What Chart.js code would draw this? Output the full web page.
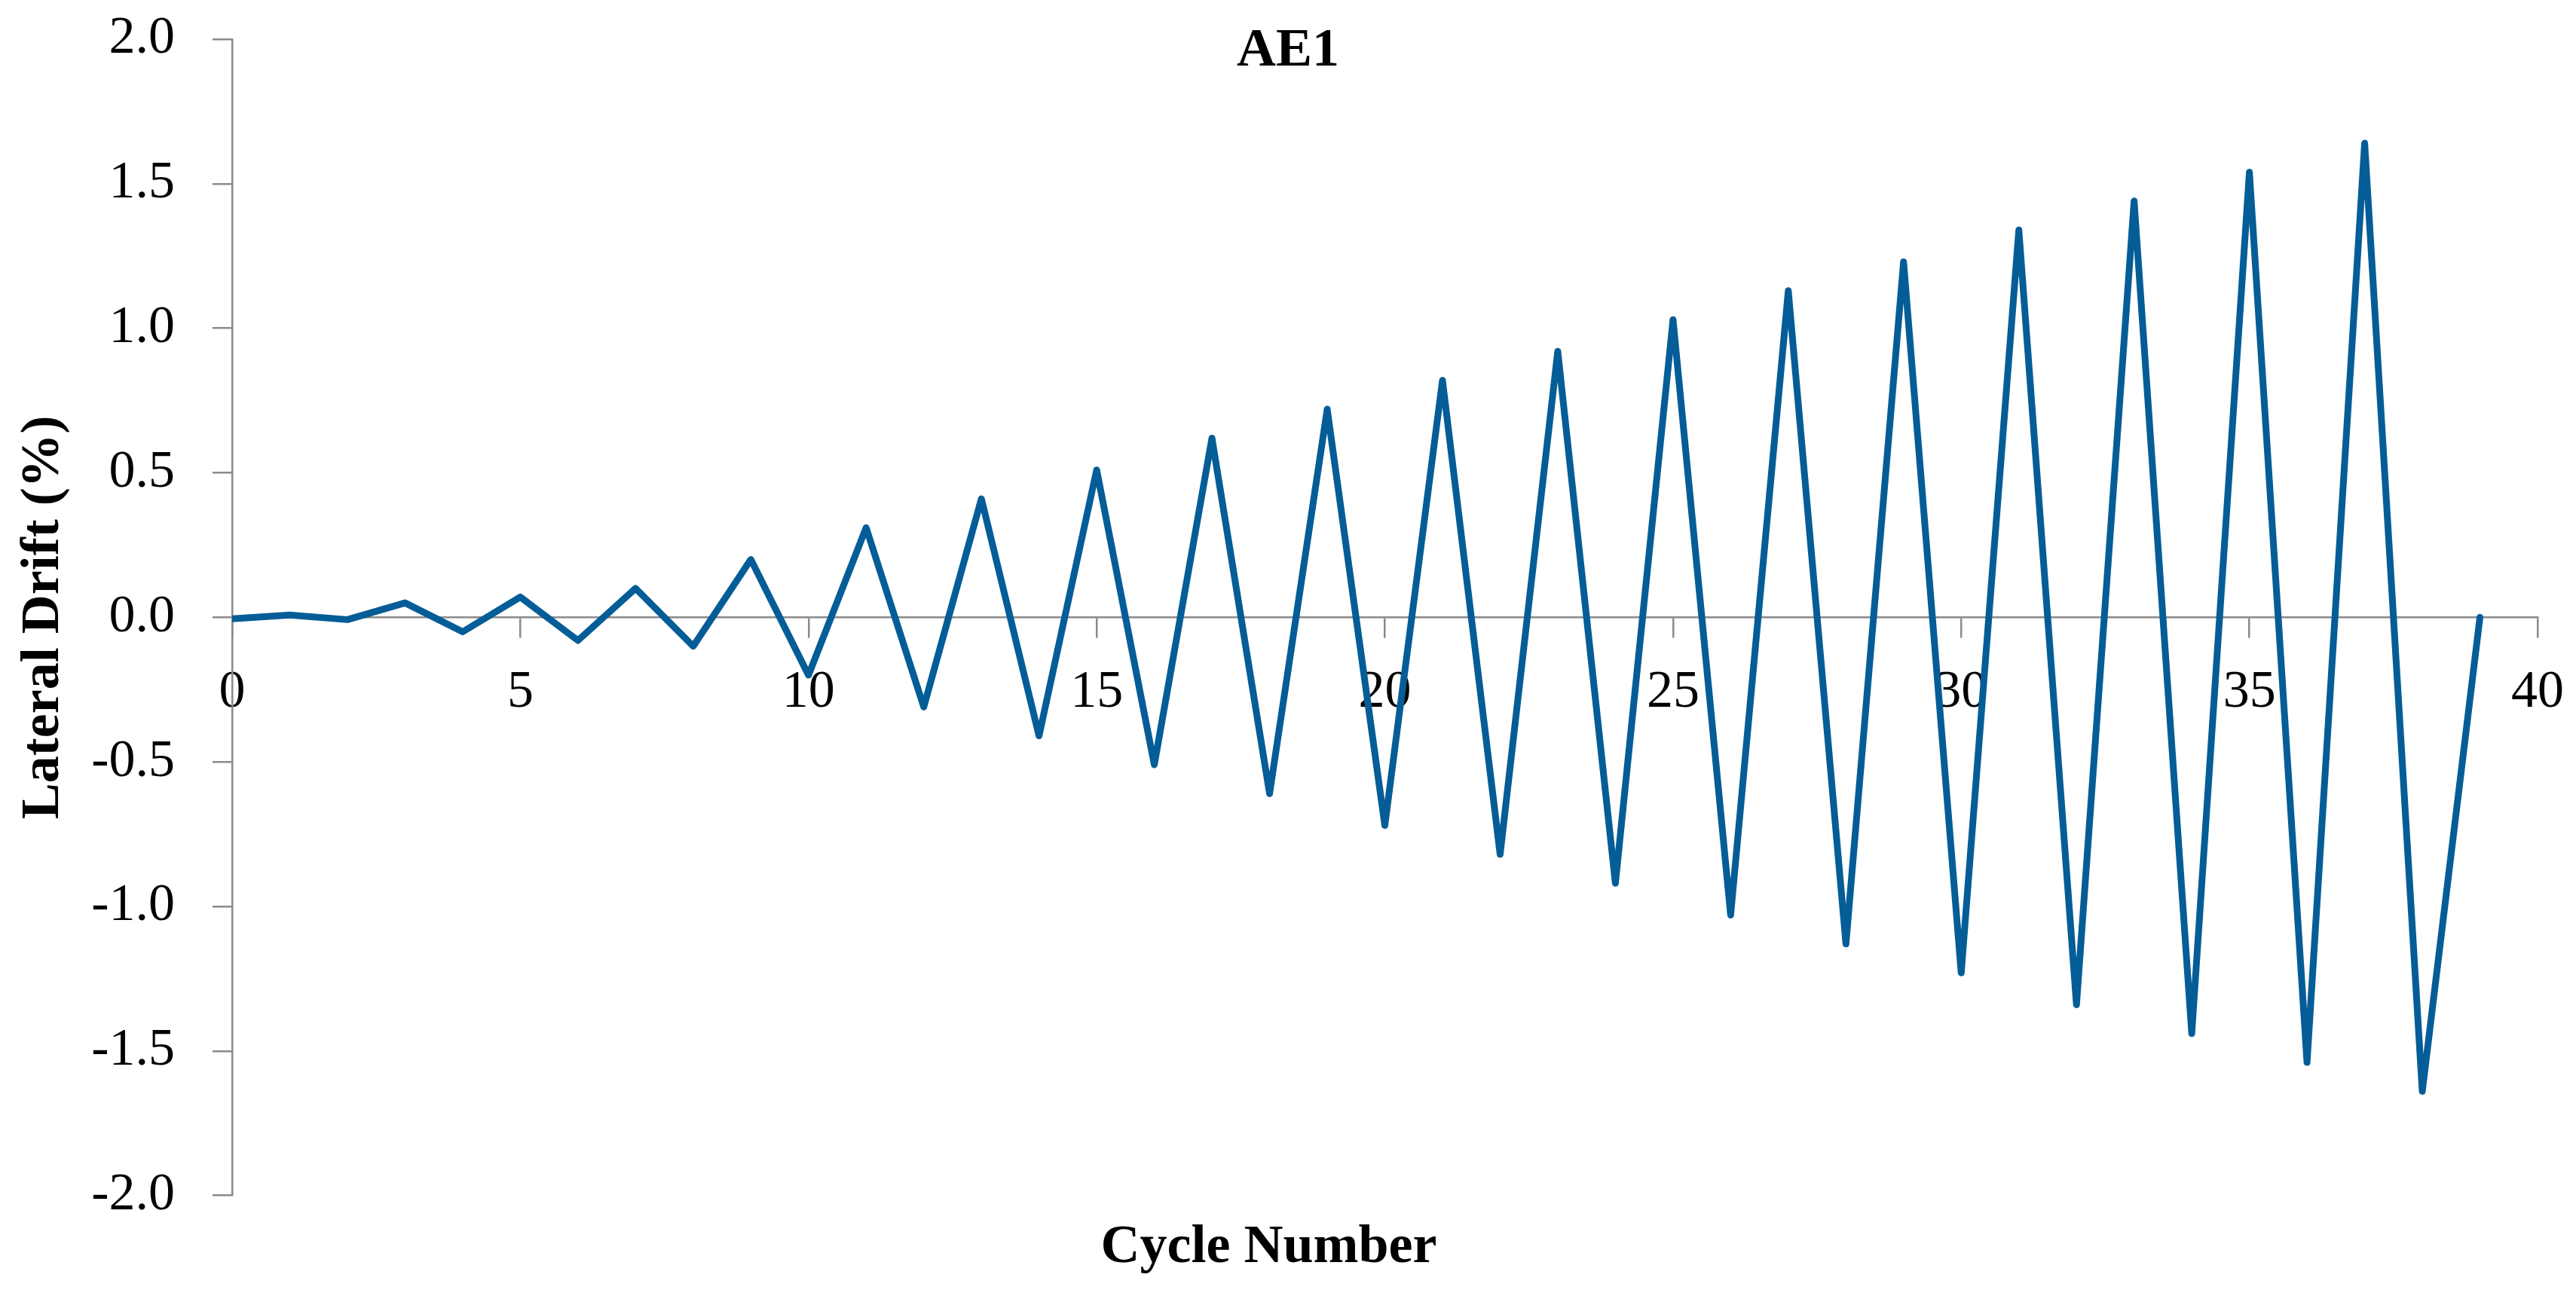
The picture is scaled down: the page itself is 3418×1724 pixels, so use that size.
<!DOCTYPE html>
<html>
<head>
<meta charset="utf-8">
<title>AE1 lateral drift</title>
<script src="https://cdn.jsdelivr.net/npm/chart.js@4.4.1/dist/chart.umd.min.js"></script>
<style>
  html, body { margin: 0; padding: 0; background: #fff; }
  #wrap { width: 3418px; height: 1724px; }
</style>
</head>
<body>
<div id="wrap"><canvas id="chart" width="3418" height="1724"></canvas></div>
<script>
// AE1 loading protocol: drift per cycle

const chartTitle = "AE1";
const xTitle = "Cycle Number";
const yTitle = "Lateral Drift (%)";

const cycleNumber = [
  0, 1, 2, 3, 4, 5, 6, 7, 8, 9,
  10, 11, 12, 13, 14, 15, 16, 17, 18, 19,
  20, 21, 22, 23, 24, 25, 26, 27, 28, 29,
  30, 31, 32, 33, 34, 35, 36, 37, 38, 39
];
const lateralDrift = [
  -0.005, 0.008, -0.008, 0.05, -0.05, 0.07, -0.08, 0.1, -0.1, 0.2,
  -0.2, 0.31, -0.31, 0.41, -0.41, 0.51, -0.51, 0.62, -0.61, 0.72,
  -0.72, 0.82, -0.82, 0.92, -0.92, 1.03, -1.03, 1.13, -1.13, 1.23,
  -1.23, 1.34, -1.34, 1.44, -1.44, 1.54, -1.54, 1.64, -1.64, 0
];

const xMin = 0, xMax = 40, xStep = 5;
const yMin = -2, yMax = 2, yStep = 0.5;

const LINE = "#045d97";
const AXIS = "#8a8a8a";
const SERIF = "'Liberation Serif', 'Times New Roman', serif";

const points = cycleNumber.map((c, i) => ({ x: c, y: lateralDrift[i] }));

// title sits inside the plot area, so draw it after everything else
const topTitle = {
  id: "topTitle",
  afterDraw(chart) {
    const ctx = chart.ctx;
    ctx.save();
    ctx.font = "bold 72px " + SERIF;
    ctx.fillStyle = "#000";
    ctx.textAlign = "center";
    ctx.textBaseline = "middle";
    ctx.fillText(chartTitle, chart.width / 2, 68);
    ctx.restore();
  }
};

new Chart(document.getElementById("chart"), {
  type: "line",
  data: {
    datasets: [{
      data: points,
      borderColor: LINE,
      backgroundColor: LINE,
      borderWidth: 9,
      borderJoinStyle: "round",
      borderCapStyle: "round",
      pointRadius: 0,
      tension: 0,
      fill: false
    }]
  },
  options: {
    responsive: false,
    devicePixelRatio: 1,
    animation: false,
    layout: { padding: { top: 52, right: 51, bottom: 0, left: 0 } },
    plugins: {
      legend: { display: false },
      tooltip: { enabled: false },
      title: {
        display: true,
        position: "bottom",
        text: xTitle,
        color: "#000",
        font: { family: SERIF, size: 72, weight: "bold", lineHeight: 1.2 },
        padding: { top: 27, bottom: 24 }
      }
    },
    scales: {
      x: {
        type: "linear",
        position: { y: 0 },
        min: xMin,
        max: xMax,
        // axis crosses at y=0, so it shouldn't eat layout space
        afterFit: (s) => {
          s.height = 0;
          s.paddingLeft = 0;
          s.paddingRight = 0;
        },
        ticks: {
          stepSize: xStep,
          autoSkip: false,
          maxRotation: 0,
          padding: 32,
          color: "#000",
          font: { family: SERIF, size: 70 },
          callback: (v) => String(v)
        },
        grid: {
          display: true,
          drawOnChartArea: false,
          drawTicks: true,
          tickLength: 26,
          color: AXIS,
          lineWidth: 2.5
        },
        border: { display: true, color: AXIS, width: 2.5 }
      },
      y: {
        type: "linear",
        position: "left",
        min: yMin,
        max: yMax,
        afterFit: (s) => {
          s.width = 308;
          s.paddingTop = 0;
          s.paddingBottom = 0;
        },
        ticks: {
          stepSize: yStep,
          padding: 50,
          color: "#000",
          font: { family: SERIF, size: 70 },
          callback: (v) => Number(v).toFixed(1)
        },
        grid: {
          display: true,
          drawOnChartArea: false,
          drawTicks: true,
          tickLength: 26,
          color: AXIS,
          lineWidth: 2.5
        },
        border: { display: true, color: AXIS, width: 2.5 },
        title: {
          display: true,
          text: yTitle,
          color: "#000",
          font: { family: SERIF, size: 72, weight: "bold", lineHeight: 1.2 },
          padding: { top: 15, bottom: 0 }
        }
      }
    }
  },
  plugins: [topTitle]
});
</script>
</body>
</html>
